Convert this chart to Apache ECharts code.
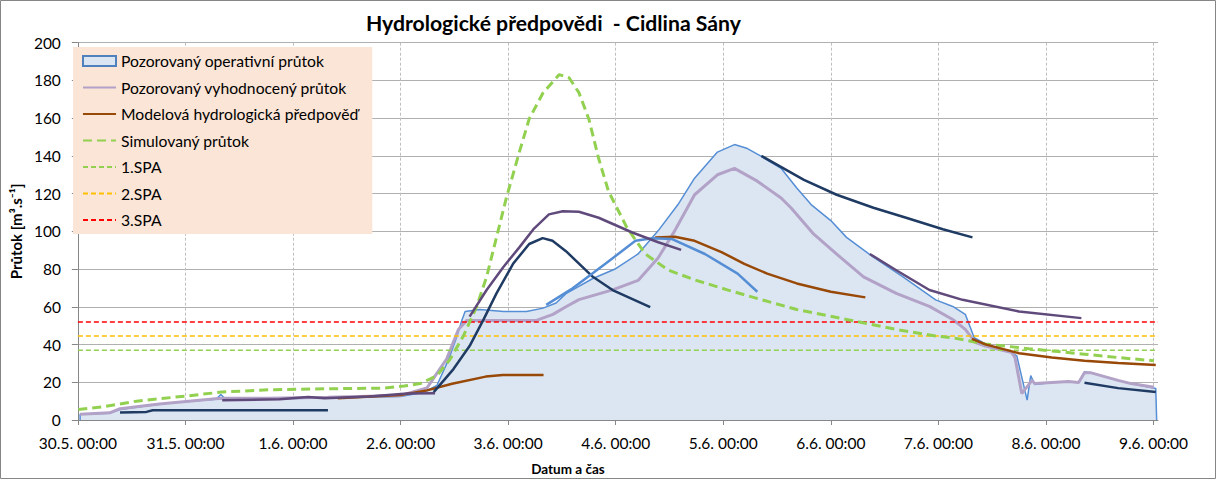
<!DOCTYPE html>
<html><head><meta charset="utf-8">
<script src="https://cdn.jsdelivr.net/npm/echarts@6/dist/echarts.min.js"></script>
<style>html,body{margin:0;padding:0;background:#fff}#c{width:1217px;height:481px}</style>
</head><body><div id="c"></div>
<script>
// hours since 30.5. 00:00
const xTickLabels = ['30.5. 00:00','31.5. 00:00','1.6. 00:00','2.6. 00:00','3.6. 00:00','4.6. 00:00','5.6. 00:00','6.6. 00:00','7.6. 00:00','8.6. 00:00','9.6. 00:00'];

const operativni = [[0.5,0],[0.5,3],[7.1,3.6],[9.4,5.5],[13.8,7],[20.4,9],[27.1,10.3],[30.8,11],[31.9,13.5],[33,11],[42.5,11.2],[51.4,11.5],[58,12],[64.7,12],[72,12.5],[75.7,14],[77.9,15.5],[80.1,18.3],[82.7,32],[84.6,44.5],[85.7,53],[86.4,57.5],[89.7,58.6],[95,57.5],[100.1,57.5],[103.8,59.3],[106.7,62],[108.9,67],[114.9,75],[120,80.2],[125,88],[129.5,100.4],[133.9,114.2],[137.6,128.2],[142.7,142],[146.5,146],[149.4,143.9],[152.5,139.7],[156.9,133.4],[160.4,123],[163.6,114.2],[168,105.7],[171.5,96.8],[177.5,86.3],[184.1,75.9],[191.4,63.7],[195.2,60.2],[198,56],[200,43.6],[202.5,40.3],[208.4,35.7],[209.5,34],[211.8,10.5],[212.6,23.5],[213.5,18.8],[217.3,19.9],[221,20.4],[223.3,19.9],[224.6,25.6],[226.1,25],[232.1,21],[235,19.3],[240.5,16.7],[240.7,0]];

const vyhodnoceny = [[0.5,3],[7.1,3.8],[9.4,6],[18.2,8.5],[30.7,11.3],[32.6,11.5],[42.5,11.5],[55.8,12],[72,13],[77.9,17],[82.3,32.4],[84.9,48],[86.8,52.8],[102.3,52.8],[106,56],[108.9,60],[111.8,63.8],[119.3,69],[125,74],[129.5,86],[133.2,100.4],[137.6,119.4],[142.7,130],[146.5,133.4],[151.6,126.6],[156.9,117.7],[159.1,112.5],[164.2,98.5],[170.1,86.3],[175.3,75.9],[182.6,67.1],[190,60.2],[195.2,53.3],[198,48],[200.3,41],[202.5,39.2],[208.4,35.7],[209.1,33],[210.6,14],[212.9,21],[213.5,19.3],[217.3,19.9],[221,20.4],[223.3,19.9],[224.6,25],[226.1,25],[232.1,21],[235,19.3],[240.1,17.4]];

const simulovany = [[0.1,5.6],[5.6,7],[13.1,10],[24.1,12.7],[32.1,14.8],[42.5,16],[57.3,16.6],[68.3,16.9],[72.8,18],[76.4,19.3],[80.1,23.5],[83,32],[86,44.5],[89,60.2],[91.2,75.9],[93.4,96.8],[95.6,117.7],[98.5,142],[100.7,159.6],[103.8,173.5],[107.4,183.1],[109.6,181.4],[111.8,173.5],[114,159.6],[116.2,138.6],[118.4,121.2],[122.5,102],[126.6,88],[131.7,79.5],[137.6,74.3],[144.9,69],[152.5,63.8],[160.4,58.6],[171.5,53.3],[182.6,48],[191.4,44.5],[195.2,43.6],[202.5,40.3],[212.2,37.8],[224.6,34.9],[232.1,33.1],[240.1,31.4]];

// forecast runs
const predpovedHneda1 = [[58,11.5],[72,13.3],[77.9,15.7],[83.5,19.2],[91,23],[94.8,23.9],[103.9,23.9]];
const predpovedHneda2 = [[128.8,96.8],[133.2,97.1],[137.6,95],[143.6,89],[148.7,82.8],[153.8,77.6],[160.4,72.4],[168,68],[175.7,65]];
const predpovedHneda3 = [[199.5,43],[202.5,40.1],[210,35.4],[217.3,33.1],[224.6,31.4],[232.1,30.2],[240.5,29.1]];
const predpovedTmava1 = [[9.4,4],[15.3,4.3],[16.7,5.2],[55.8,5.2]];
const predpovedTmava2 = [[79.4,14.8],[83.8,27],[87.4,39.2],[90.5,53.2],[93.4,67.1],[97.1,82.8],[100.7,93.3],[103.7,96.4],[105.9,95],[108.9,89.5],[114.9,75.9],[119.3,68.9],[127.7,59.8]];
const predpovedTmava3 = [[152.5,140],[162,127.3],[169.3,119.4],[177.5,112.5],[184.8,107.2],[193,101.1],[199.6,96.8]];
const predpovedTmava4 = [[224.6,19.7],[232.1,16.9],[240.5,14.8]];
const predpovedFialova1 = [[32.2,10.5],[45,11],[51.4,12.2],[55,11.5],[65,12.5],[73.5,14],[79.7,14.2]];
const predpovedFialova2 = [[87.4,54.8],[91.2,68.9],[94.9,81],[98.5,91.5],[101.6,101],[105.1,109],[108.2,110.7],[111.8,110.4],[116.2,107.2],[123.7,99.4],[129.5,94.2],[134.6,90.2]];
const predpovedFialova3 = [[176.7,88],[182.6,79.4],[190,68.9],[197.4,63.7],[210,57.5],[223.9,54]];
const predpovedModra1 = [[104.5,61],[110.4,69.8],[117.7,82.8],[124.4,95],[128.2,96.4],[132.6,95.9],[139.9,88],[147.2,77.6],[151.6,68]];

const spa1 = 37, spa2 = 44.5, spa3 = 52;
const xMin = 0, xMax = 241;

const F = 'Lato, "Liberation Sans", sans-serif';
const chart = echarts.init(document.getElementById('c'), null, {renderer: 'svg'});

function line(name, data, color, width, z, extra) {
  return Object.assign({
    type: 'line', name: name, data: data, symbol: 'none', smooth: false,
    lineStyle: {color: color, width: width}, itemStyle: {color: color},
    z: z, silent: true, animation: false
  }, extra || {});
}
const NAVY = '#1F3B63', PURP = '#604A7B', BROWN = '#984807', BLUE = '#558ED5';

const series = [
  line('Pozorovaný operativní průtok', operativni, BLUE, 1.5, 1, {areaStyle: {color: '#DCE6F2', opacity: 1}}),
  line('Pozorovaný vyhodnocený průtok', vyhodnoceny, '#B3A2C7', 3, 2),
  line('Modelová hydrologická předpověď', predpovedHneda1, BROWN, 2.5, 5),
  line('Simulovaný průtok', simulovany, '#92D050', 3, 4, {lineStyle: {color: '#92D050', width: 3, type: [9, 5]}}),
  line('1.SPA', [[xMin, spa1], [xMax, spa1]], '#92D050', 1.5, 3, {lineStyle: {color: '#92D050', width: 1.5, type: [5, 3]}}),
  line('2.SPA', [[xMin, spa2], [xMax, spa2]], '#FFC000', 1.5, 3, {lineStyle: {color: '#FFC000', width: 1.5, type: [5, 3]}}),
  line('3.SPA', [[xMin, spa3], [xMax, spa3]], '#FF0000', 1.5, 3, {lineStyle: {color: '#FF0000', width: 1.5, type: [5, 3]}}),
  line('h2', predpovedHneda2, BROWN, 2.5, 5),
  line('h3', predpovedHneda3, BROWN, 2.5, 5),
  line('t1', predpovedTmava1, NAVY, 2.5, 5),
  line('t2', predpovedTmava2, NAVY, 2.5, 5),
  line('t3', predpovedTmava3, NAVY, 2.5, 5),
  line('t4', predpovedTmava4, NAVY, 2.5, 5),
  line('f1', predpovedFialova1, PURP, 2.5, 6),
  line('f2', predpovedFialova2, PURP, 2.5, 6),
  line('f3', predpovedFialova3, PURP, 2.5, 6),
  line('m1', predpovedModra1, BLUE, 2.5, 5)
];

chart.setOption({
  animation: false,
  backgroundColor: '#fff',
  title: {text: 'Hydrologické předpovědi  - Cidlina Sány', left: 361, top: 7,
    textStyle: {fontFamily: F, fontSize: 21.2, fontWeight: 'bold', color: '#000'}},
  grid: {left: 67.7, right: 59, top: 42.7, bottom: 56, containLabel: false},
  legend: {
    orient: 'vertical', left: 73, top: 47,
    data: [
      {name: 'Pozorovaný operativní průtok', icon: 'rect', itemStyle: {color: '#DCE6F2', borderColor: '#4F81BD', borderWidth: 2, opacity: 1}},
      'Pozorovaný vyhodnocený průtok', 'Modelová hydrologická předpověď', 'Simulovaný průtok', '1.SPA', '2.SPA', '3.SPA'],
    itemStyle: {opacity: 0},
    backgroundColor: '#FBE5D6', borderWidth: 0,
    padding: [5, 14, 5, 9],
    itemWidth: 33, itemHeight: 10, itemGap: 8.5,
    selectedMode: false,
    textStyle: {fontFamily: F, fontSize: 15.7, color: '#000', lineHeight: 18}
  },
  xAxis: {
    type: 'value', min: xMin, max: xMax, interval: 24,
    name: 'Datum a čas', nameLocation: 'middle', nameGap: 42,
    nameTextStyle: {fontFamily: F, fontSize: 13.5, fontWeight: 'bold', color: '#000', padding: [0, 100, 0, 0]},
    axisLine: {show: true, lineStyle: {color: '#868686', width: 1}},
    axisTick: {show: true, length: 5, lineStyle: {color: '#868686'}},
    axisLabel: {fontFamily: F, fontSize: 15.5, color: '#000', margin: 15, showMaxLabel: false,
      formatter: v => (v % 24 === 0 ? xTickLabels[v / 24] : '')},
    splitLine: {show: true, showMaxLine: false, lineStyle: {color: '#BFBFBF', type: [3, 2], width: 1}}
  },
  yAxis: {
    type: 'value', min: 0, max: 200, interval: 20,
    name: 'Průtok [m³.s⁻¹]', nameLocation: 'middle', nameGap: 48, nameRotate: 90,
    nameTextStyle: {fontFamily: F, fontSize: 15, fontWeight: 'bold', color: '#000'},
    axisLine: {show: true, lineStyle: {color: '#868686', width: 1}},
    axisTick: {show: true, length: 6, lineStyle: {color: '#868686'}},
    axisLabel: {fontFamily: F, fontSize: 15.5, color: '#000', margin: 17},
    splitLine: {show: true, lineStyle: {color: '#B0B0B0', width: 1}}
  },
  graphic: [{type: 'rect', shape: {x: 0.5, y: 0.5, width: 1215, height: 478}, style: {fill: 'none', stroke: '#868686', lineWidth: 1}, silent: true, z: 100}],
  series: series
});
</script></body></html>
